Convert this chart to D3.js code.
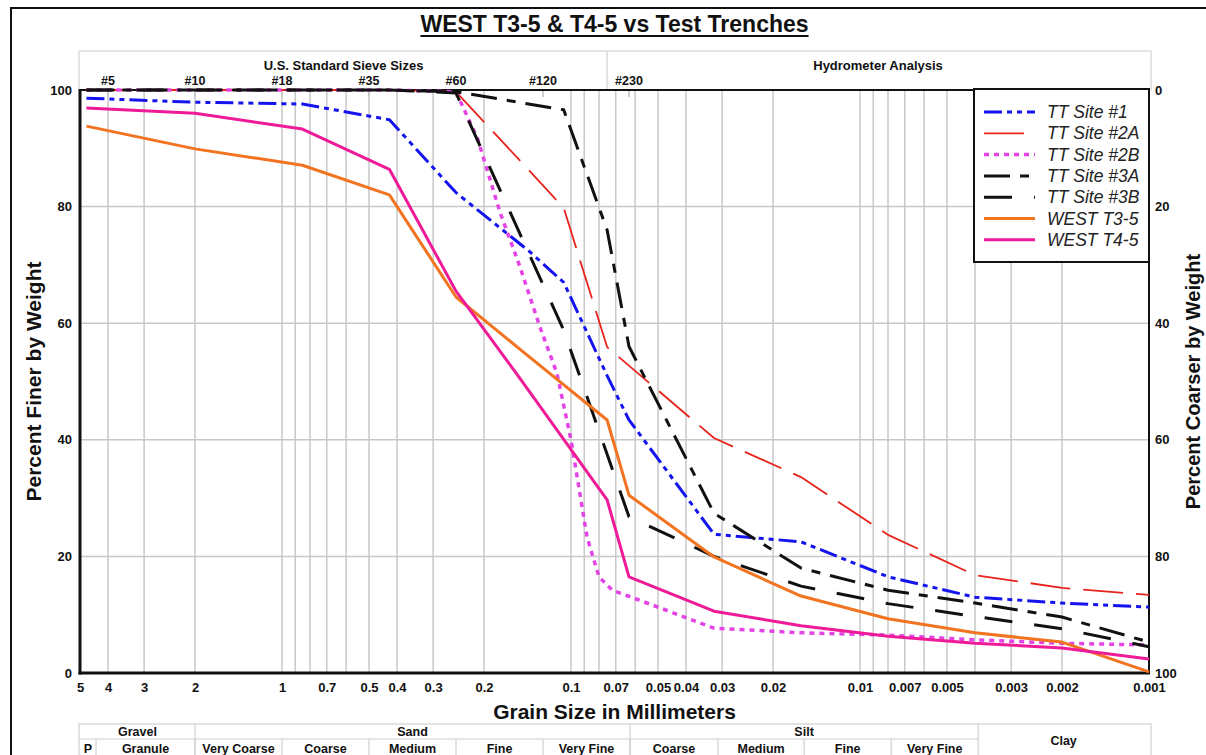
<!DOCTYPE html>
<html><head><meta charset="utf-8">
<script src="https://cdn.jsdelivr.net/npm/d3@7"></script>
<style>
html,body{margin:0;padding:0;background:#fff;}
svg{display:block;font-family:"Liberation Sans",Arial,sans-serif;}
</style></head><body>
<svg id="chart" width="1206" height="755"></svg>
<script>
// ---------------- DATA ----------------
const seriesNames = ["TT Site #1","TT Site #2A","TT Site #2B","TT Site #3A","TT Site #3B","WEST T3-5","WEST T4-5"];

const site1Size  = [4.75, 2.0, 0.85, 0.425, 0.25, 0.14, 0.106, 0.075, 0.063, 0.032, 0.016, 0.008, 0.004, 0.002, 0.001];
const site1Pct   = [98.6, 97.9, 97.6, 94.9, 82.4, 72.4, 67.0, 51.0, 43.4, 23.8, 22.5, 16.5, 13.0, 12.0, 11.3];

const site2ASize = [4.75, 2.0, 0.85, 0.425, 0.25, 0.106, 0.075, 0.032, 0.016, 0.008, 0.004, 0.002, 0.001];
const site2APct  = [100, 100, 100, 100, 99.7, 79.8, 55.9, 40.3, 33.6, 23.7, 16.8, 14.6, 13.4];

const site2BSize = [4.75, 2.0, 0.85, 0.425, 0.25, 0.21, 0.176, 0.15, 0.128, 0.112, 0.1, 0.088, 0.08, 0.072, 0.061, 0.032, 0.016, 0.008, 0.004, 0.002, 0.001];
const site2BPct  = [100, 100, 100, 100, 99.7, 91.5, 79.0, 69.6, 59.3, 51.5, 40.0, 23.3, 16.5, 14.2, 12.9, 7.7, 6.9, 6.5, 5.7, 5.1, 4.8];

const site3ASize = [4.75, 2.0, 0.85, 0.425, 0.25, 0.106, 0.075, 0.063, 0.032, 0.016, 0.008, 0.004, 0.002, 0.001];
const site3APct  = [100, 100, 100, 100, 99.7, 96.6, 76.0, 56.0, 27.4, 18.0, 14.2, 12.0, 9.6, 5.3];

const site3BSize = [4.75, 2.0, 0.85, 0.425, 0.25, 0.106, 0.063, 0.032, 0.016, 0.008, 0.004, 0.002, 0.001];
const site3BPct  = [100, 100, 100, 100, 99.5, 58.8, 26.8, 20.0, 14.9, 11.9, 9.7, 7.6, 4.5];

const t35Size    = [4.75, 2.0, 0.85, 0.425, 0.25, 0.15, 0.075, 0.063, 0.032, 0.016, 0.008, 0.004, 0.002, 0.001];
const t35Pct     = [93.8, 89.9, 87.1, 82.0, 64.5, 55.5, 43.4, 30.5, 19.9, 13.2, 9.3, 6.9, 5.3, 0.2];

const t45Size    = [4.75, 2.0, 0.85, 0.425, 0.25, 0.15, 0.075, 0.063, 0.032, 0.016, 0.008, 0.004, 0.002, 0.001];
const t45Pct     = [96.9, 96.0, 93.3, 86.4, 65.5, 50.5, 29.7, 16.5, 10.6, 8.1, 6.3, 5.1, 4.3, 2.4];

const xTickValues = [5,4,3,2,1,0.7,0.5,0.4,0.3,0.2,0.1,0.07,0.05,0.04,0.03,0.02,0.01,0.007,0.005,0.003,0.002,0.001];
const xGridValues = [4,3,2,1,0.9,0.8,0.7,0.6,0.5,0.4,0.3,0.2,0.1,0.09,0.08,0.07,0.06,0.05,0.04,0.03,0.02,0.01,0.009,0.008,0.007,0.006,0.005,0.004,0.003,0.002];
const yTickValues = [0,20,40,60,80,100];
const yGridValues = [20,40,60,80];

const sieveLabels = ["#5","#10","#18","#35","#60","#120","#230"];
const sieveSizes  = [4.0, 2.0, 1.0, 0.5, 0.25, 0.125, 0.063];

const headerNames  = ["U.S. Standard Sieve Sizes","Hydrometer Analysis"];
const headerBounds = [5, 0.075, 0.001];

const classNames  = ["Gravel","Sand","Silt"];
const classBounds = [5, 2, 0.0625, 0.0039];
const clayBounds  = [0.0039, 0.001];
const subNames    = ["P","Granule","Very Coarse","Coarse","Medium","Fine","Very Fine","Coarse","Medium","Fine","Very Fine"];
const subBounds   = [5, 4.4, 2, 1, 0.5, 0.25, 0.125, 0.0625, 0.031, 0.0156, 0.0078, 0.0039];

// ---------------- STYLES ----------------
const seriesColors = ["#1414ee","#e8231c","#e444e6","#111111","#111111","#f27320","#ee1a98"];
const seriesDash   = ["18,5,5,5,5,5","40,13","5,5","26,10,9,10","28,22",null,null];
const seriesWidth  = [3, 1.8, 3.5, 3, 3, 3, 3];

const sizes = [site1Size, site2ASize, site2BSize, site3ASize, site3BSize, t35Size, t45Size];
const pcts  = [site1Pct, site2APct, site2BPct, site3APct, site3BPct, t35Pct, t45Pct];

// ---------------- CHART ----------------
const svg = d3.select("#chart");
const L = 80, R = 1149, T = 90, B = 673;
const x = d3.scaleLog().domain([5, 0.001]).range([L, R]);
const y = d3.scaleLinear().domain([0, 100]).range([B, T]);
const yR = d3.scaleLinear().domain([100, 0]).range([B, T]);

// outer frame
svg.append("rect").attr("x", 11).attr("y", 8).attr("width", 1400).attr("height", 900)
  .attr("fill", "none").attr("stroke", "#111").attr("stroke-width", 2);

// title
const title = svg.append("text").attr("x", (L + R) / 2).attr("y", 32)
  .attr("text-anchor", "middle").attr("font-size", 23).attr("font-weight", "bold").attr("fill", "#111")
  .text("WEST T3-5 & T4-5 vs Test Trenches");
const tw = title.node().getComputedTextLength();
svg.append("line").attr("x1", (L + R) / 2 - tw / 2).attr("x2", (L + R) / 2 + tw / 2)
  .attr("y1", 36).attr("y2", 36).attr("stroke", "#111").attr("stroke-width", 2);

// header box
const hg = svg.append("g");
hg.append("rect").attr("x", x(headerBounds[0]) - 1).attr("y", 51)
  .attr("width", x(headerBounds[2]) - x(headerBounds[0]) + 3).attr("height", 39)
  .attr("fill", "none").attr("stroke", "#d4d4d4").attr("stroke-width", 1.2);
hg.append("line").attr("x1", x(headerBounds[1])).attr("x2", x(headerBounds[1]))
  .attr("y1", 51).attr("y2", 90).attr("stroke", "#d4d4d4").attr("stroke-width", 1.2);
headerNames.forEach((n, i) => {
  hg.append("text").attr("x", (x(headerBounds[i]) + x(headerBounds[i + 1])) / 2).attr("y", 70)
    .attr("text-anchor", "middle").attr("font-size", 13).attr("font-weight", "bold").attr("fill", "#111").text(n);
});
sieveLabels.forEach((s, i) => {
  hg.append("text").attr("x", x(sieveSizes[i])).attr("y", 85)
    .attr("text-anchor", "middle").attr("font-size", 12.5).attr("font-weight", "bold").attr("fill", "#111").text(s);
  hg.append("line").attr("x1", x(sieveSizes[i])).attr("x2", x(sieveSizes[i]))
    .attr("y1", T).attr("y2", T + 7).attr("stroke", "#bdbdbd").attr("stroke-width", 1.5);
});

// grid
const grid = svg.append("g");
grid.selectAll("line.vx").data(xGridValues).join("line")
  .attr("x1", d => x(d)).attr("x2", d => x(d)).attr("y1", T).attr("y2", B)
  .attr("stroke", "#c8c8c8").attr("stroke-width", 1.5);
grid.selectAll("line.hy").data(yGridValues).join("line")
  .attr("x1", L).attr("x2", R).attr("y1", d => y(d)).attr("y2", d => y(d))
  .attr("stroke", "#c8c8c8").attr("stroke-width", 1.5);

// axes labels (via d3 axes)
const fmtX = d => String(d);
const ax = svg.append("g").attr("transform", `translate(0,${B})`)
  .call(d3.axisBottom(x).tickValues(xTickValues).tickFormat(fmtX).tickSize(0).tickPadding(10));
const ay = svg.append("g").attr("transform", `translate(${L},0)`)
  .call(d3.axisLeft(y).tickValues(yTickValues).tickSize(0).tickPadding(8));
const ayR = svg.append("g").attr("transform", `translate(${R},0)`)
  .call(d3.axisRight(yR).tickValues(yTickValues).tickSize(0).tickPadding(6));
[ax, ay, ayR].forEach(g => {
  g.select(".domain").remove();
  g.selectAll("text").attr("font-size", 13).attr("font-weight", "bold").attr("fill", "#111")
    .attr("font-family", '"Liberation Sans",Arial,sans-serif');
});

// plot frame
svg.append("line").attr("x1", L).attr("x2", R).attr("y1", T).attr("y2", T).attr("stroke", "#111").attr("stroke-width", 2);
svg.append("line").attr("x1", R).attr("x2", R).attr("y1", T).attr("y2", B + 1).attr("stroke", "#111").attr("stroke-width", 2);
svg.append("line").attr("x1", L).attr("x2", L).attr("y1", T - 1).attr("y2", B + 1.5).attr("stroke", "#111").attr("stroke-width", 3);
svg.append("line").attr("x1", L - 1.5).attr("x2", R + 1).attr("y1", B).attr("y2", B).attr("stroke", "#111").attr("stroke-width", 3);

// axis titles
svg.append("text").attr("x", (L + R) / 2).attr("y", 719).attr("text-anchor", "middle")
  .attr("font-size", 21).attr("font-weight", "bold").attr("fill", "#111").text("Grain Size in Millimeters");
svg.append("text").attr("transform", `translate(41,${(T + B) / 2}) rotate(-90)`).attr("text-anchor", "middle")
  .attr("font-size", 21).attr("font-weight", "bold").attr("fill", "#111").text("Percent Finer by Weight");
svg.append("text").attr("transform", `translate(1200,${(T + B) / 2}) rotate(-90)`).attr("text-anchor", "middle")
  .attr("font-size", 20).attr("font-weight", "bold").attr("fill", "#111").text("Percent Coarser by Weight");

// series lines
const line = d3.line().x(d => x(d[0])).y(d => y(d[1]));
const lg = svg.append("g");
seriesNames.forEach((n, i) => {
  const pts = sizes[i].map((s, j) => [s, pcts[i][j]]);
  lg.append("path").datum(pts).attr("d", line)
    .attr("fill", "none").attr("stroke", seriesColors[i]).attr("stroke-width", seriesWidth[i])
    .attr("stroke-dasharray", seriesDash[i]).attr("stroke-linejoin", "round");
});

// legend
const leg = svg.append("g");
leg.append("rect").attr("x", 974).attr("y", 89).attr("width", R - 974).attr("height", 173)
  .attr("fill", "#fff").attr("stroke", "#111").attr("stroke-width", 2);
seriesNames.forEach((n, i) => {
  const yy = 112 + i * 21.3;
  leg.append("line").attr("x1", 984).attr("x2", 1035).attr("y1", yy).attr("y2", yy)
    .attr("stroke", seriesColors[i]).attr("stroke-width", seriesWidth[i]).attr("stroke-dasharray", seriesDash[i]);
  leg.append("text").attr("x", 1047).attr("y", yy + 6).attr("font-size", 17.5).attr("font-style", "italic")
    .attr("fill", "#222").text(n);
});

// classification table
const tg = svg.append("g");
const tblTop = 724, tblMid = 739, tblBot = 770;
const gc = "#d0d0d0";
tg.append("rect").attr("x", x(5) - 1).attr("y", tblTop).attr("width", x(0.001) - x(5) + 3).attr("height", tblBot - tblTop)
  .attr("fill", "none").attr("stroke", gc).attr("stroke-width", 1.2);
tg.append("line").attr("x1", x(classBounds[0]) - 1).attr("x2", x(classBounds[classBounds.length - 1]))
  .attr("y1", tblMid).attr("y2", tblMid).attr("stroke", gc).attr("stroke-width", 1.2);
classNames.forEach((n, i) => {
  const a = x(classBounds[i]), b = x(classBounds[i + 1]);
  if (i > 0) tg.append("line").attr("x1", a).attr("x2", a).attr("y1", tblTop).attr("y2", tblBot).attr("stroke", gc).attr("stroke-width", 1.2);
  tg.append("text").attr("x", (a + b) / 2).attr("y", 736).attr("text-anchor", "middle")
    .attr("font-size", 12.5).attr("font-weight", "bold").attr("fill", "#111").text(n);
});
tg.append("line").attr("x1", x(clayBounds[0])).attr("x2", x(clayBounds[0])).attr("y1", tblTop).attr("y2", tblBot).attr("stroke", gc).attr("stroke-width", 1.2);
tg.append("text").attr("x", (x(clayBounds[0]) + x(clayBounds[1])) / 2).attr("y", 745).attr("text-anchor", "middle")
  .attr("font-size", 12.5).attr("font-weight", "bold").attr("fill", "#111").text("Clay");
subNames.forEach((n, i) => {
  const a = x(subBounds[i]), b = x(subBounds[i + 1]);
  if (i > 0) tg.append("line").attr("x1", a).attr("x2", a).attr("y1", tblMid).attr("y2", tblBot).attr("stroke", gc).attr("stroke-width", 1.2);
  tg.append("text").attr("x", (a + b) / 2).attr("y", 753).attr("text-anchor", "middle")
    .attr("font-size", 12.5).attr("font-weight", "bold").attr("fill", "#111").text(n);
});
</script>
</body></html>
